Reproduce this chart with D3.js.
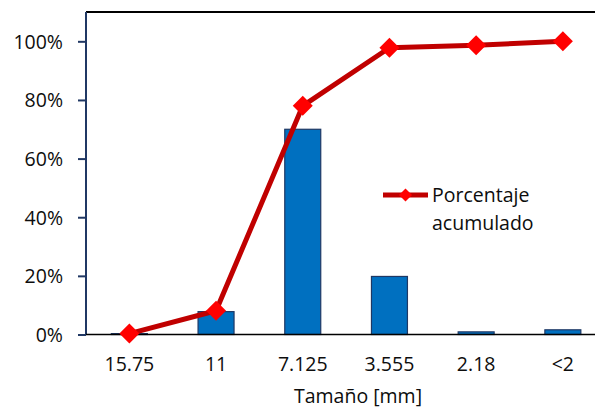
<!DOCTYPE html>
<html>
<head>
<meta charset="utf-8">
<script src="https://cdn.jsdelivr.net/npm/d3@7"></script>
<style>
  html, body { margin: 0; padding: 0; background: #fff; }
  svg { display: block; font-family: "Open Sans", sans-serif; }
</style>
</head>
<body>
<svg id="chart" width="595" height="413"></svg>
<script>
// Particle size classes (mm)
const categories = ["15.75", "11", "7.125", "3.555", "2.18", "<2"];
// Retained fraction per size class
const retained = [0.003, 0.078, 0.70, 0.198, 0.009, 0.016];
// Cumulative percentage
const cumulative = [0.003, 0.081, 0.78, 0.978, 0.987, 1.0];
const yTicks = [0, 0.2, 0.4, 0.6, 0.8, 1.0];

const svg = d3.select("#chart");
const plotLeft = 86, plotTop = 12, plotBottom = 334.5;
const band = 86.7;
const fontSize = 19.5;
const textColor = "#0d0d0d";

const x = d3.scaleBand()
  .domain(categories)
  .range([plotLeft, plotLeft + band * categories.length])
  .paddingInner(0.585)
  .paddingOuter(0.2925);
const y = d3.scaleLinear().domain([0, 1.1]).range([plotBottom, plotTop]);
const xc = d => x(d) + x.bandwidth() / 2;

// plot frame: top border
svg.append("line")
  .attr("x1", plotLeft).attr("x2", 595)
  .attr("y1", plotTop).attr("y2", plotTop)
  .attr("stroke", "#000").attr("stroke-width", 2);

// bars
svg.append("g").selectAll("rect")
  .data(categories)
  .join("rect")
  .attr("x", d => x(d))
  .attr("width", x.bandwidth())
  .attr("y", (d, i) => y(retained[i]))
  .attr("height", (d, i) => y(0) - y(retained[i]))
  .attr("fill", "#0070C0")
  .attr("stroke", "#1F3864")
  .attr("stroke-width", 1.2);

// y axis
const yAxis = svg.append("g")
  .attr("transform", `translate(${plotLeft},0)`)
  .call(d3.axisLeft(y).tickValues(yTicks).tickFormat(d3.format(".0%")).tickSize(8).tickPadding(15));
yAxis.select(".domain").attr("stroke", "#203864").attr("stroke-width", 2)
  .attr("d", `M0,${plotTop}V${plotBottom}`);
yAxis.selectAll(".tick line").attr("stroke", "#203864").attr("stroke-width", 2);
yAxis.selectAll(".tick text")
  .attr("font-size", fontSize).attr("fill", textColor)
  .attr("font-family", "Open Sans, sans-serif").attr("dy", "0.35em");

// x axis
const xAxis = svg.append("g")
  .attr("transform", `translate(0,${plotBottom})`)
  .call(d3.axisBottom(x).tickSize(0).tickPadding(23));
xAxis.select(".domain").attr("stroke", "#000").attr("stroke-width", 1.5)
  .attr("d", `M${plotLeft},0H595`);
xAxis.selectAll(".tick text")
  .attr("font-size", fontSize).attr("fill", textColor)
  .attr("font-family", "Open Sans, sans-serif");

// x axis title
svg.append("text")
  .attr("x", 358).attr("y", 403)
  .attr("text-anchor", "middle")
  .attr("font-size", fontSize).attr("fill", textColor)
  .text("Tamaño [mm]");

// cumulative line
const line = d3.line()
  .x((d, i) => xc(categories[i]))
  .y(d => y(d));
svg.append("path")
  .datum(cumulative)
  .attr("d", line)
  .attr("fill", "none")
  .attr("stroke", "#C00000")
  .attr("stroke-width", 5)
  .attr("stroke-linejoin", "round");

const diamond = s => `M0,${-s}L${s},0L0,${s}L${-s},0Z`;
svg.append("g").selectAll("path")
  .data(cumulative)
  .join("path")
  .attr("transform", (d, i) => `translate(${xc(categories[i])},${y(d)})`)
  .attr("d", diamond(10))
  .attr("fill", "#FF0000");

// legend
const lg = svg.append("g");
lg.append("line")
  .attr("x1", 383).attr("x2", 428).attr("y1", 195).attr("y2", 195)
  .attr("stroke", "#C00000").attr("stroke-width", 5);
lg.append("path")
  .attr("transform", "translate(405.5,195)")
  .attr("d", diamond(6.5))
  .attr("fill", "#FF0000");
lg.append("text")
  .attr("x", 432).attr("y", 202)
  .attr("font-size", fontSize).attr("fill", textColor)
  .text("Porcentaje");
lg.append("text")
  .attr("x", 432).attr("y", 230)
  .attr("font-size", fontSize).attr("fill", textColor)
  .text("acumulado");
</script>
</body>
</html>
